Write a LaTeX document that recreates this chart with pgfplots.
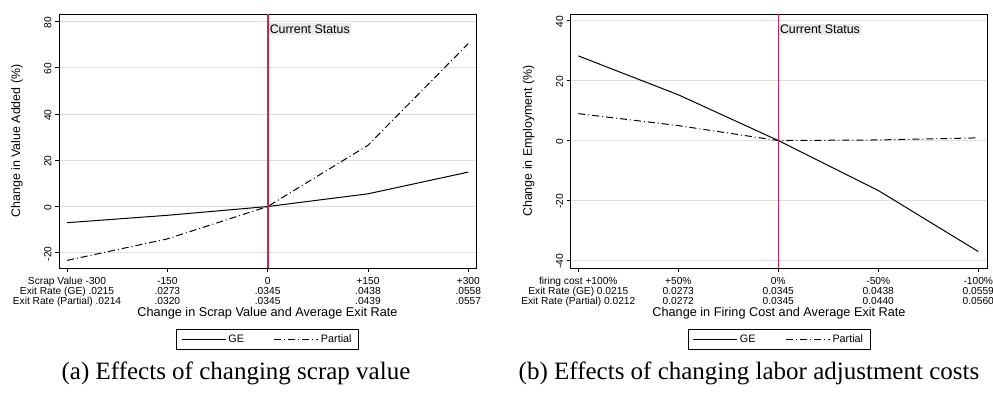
\documentclass[border=0pt]{standalone}
\usepackage{fontspec}
\setmainfont{Liberation Sans}
\newfontfamily\capfont{Liberation Serif}
\usepackage{pgfplots}
\pgfplotsset{compat=1.18}
\definecolor{statred}{RGB}{205,35,85}
\definecolor{gridgray}{RGB}{222,222,222}
\definecolor{boxgray}{RGB}{234,234,234}
\pgfplotsset{
  stataaxis/.style={
    scale only axis, width=417pt, height=254pt,
    axis line style={black, line width=0.9pt},
    tick align=outside, major tick length=4pt,
    tick style={black, line width=0.8pt},
    ymajorgrids, grid style={gridgray, line width=0.9pt},
    xtick pos=lower, ytick pos=left,
    /pgf/number format/assume math mode=true,
    xticklabel style={font=\fontsize{10.2}{10}\selectfont, align=center, anchor=north, yshift=-1.5pt},
    yticklabel style={font=\fontsize{10.2}{12}\selectfont, rotate=90, anchor=south, xshift=-1pt},
    every axis x label/.style={at={(rel axis cs:0.5,0)}, anchor=center, yshift=-45.7pt, font=\fontsize{12.7}{14}\selectfont},
    every axis y label/.style={at={(rel axis cs:0,0.5)}, xshift=-42pt, anchor=center, rotate=90, font=\fontsize{12.4}{14}\selectfont},
    legend style={at={(rel axis cs:0.5,0)}, anchor=center, yshift=-71.3pt, draw=black,
      font=\fontsize{10.8}{12}\selectfont, legend columns=2, inner xsep=5pt, inner ysep=3.5pt,
      /tikz/every even column/.append style={column sep=28pt}},
    legend image code/.code={\draw[#1] (0pt,0pt) -- (44pt,0pt);},
    gel/.style={black, line width=1pt},
    partl/.style={black, line width=1pt, dash pattern=on 7pt off 3pt on 1pt off 3pt},
    refl/.style={draw=statred, solid, line width=1.2pt, forget plot},
  }
}
\begin{document}
\begin{tikzpicture}
\begin{axis}[stataaxis, at={(59pt,-268pt)}, anchor=south west,
  xmin=-312, xmax=311.5, ymin=-26.6, ymax=83.3,
  xtick={-300,-150,0,150,300},
  xticklabels={{Scrap Value -300\\Exit Rate (GE) .0215\\Exit Rate (Partial) .0214},
               {-150\\.0273\\.0320},{0\\.0345\\.0345},{+150\\.0438\\.0439},{+300\\.0558\\.0557}},
  ytick={-20,0,20,40,60,80}, yticklabels={-20,0,20,40,60,80},
  xlabel={Change in Scrap Value and Average Exit Rate},
  ylabel={Change in Value Added (\%)}]
\addplot[gel] coordinates {(-300,-7) (-150,-3.8) (0,0) (150,5.5) (300,14.9)};
\addlegendentry{GE}
\addplot[partl] coordinates {(-300,-23.3) (-150,-14) (0,0) (150,26.5) (300,70.5)};
\addlegendentry{Partial}
\addplot[refl] coordinates {(0.6,-26.6) (0.6,83.3)};
\node[anchor=north west, fill=boxgray, inner xsep=1pt, inner ysep=1pt, text height=9pt, text depth=0.5pt,
  font=\fontsize{12.4}{14}\selectfont, yshift=-1.5pt, xshift=0.5pt] at (axis cs:0.6,80) {Current Status\hspace{5pt}};
\end{axis}
\begin{axis}[stataaxis, at={(570.7pt,-268pt)}, anchor=south west, width=416.6pt,
  xmin=-0.076, xmax=4.09, ymin=-42.6, ymax=42.3,
  xtick={0,1,2,3,4},
  xticklabels={{firing cost +100\%\\Exit Rate (GE) 0.0215\\Exit Rate (Partial) 0.0212},
               {+50\%\\0.0273\\0.0272},{0\%\\0.0345\\0.0345},{-50\%\\0.0438\\0.0440},{-100\%\\0.0559\\0.0560}},
  ytick={-40,-20,0,20,40}, yticklabels={-40,-20,0,20,40},
  xlabel={Change in Firing Cost and Average Exit Rate},
  ylabel={Change in Employment (\%)}]
\addplot[gel] coordinates {(0,28.3) (1,15.3) (2,0) (3,-16.7) (4,-37.1)};
\addlegendentry{GE}
\addplot[partl] coordinates {(0,9) (1,5) (2,0) (3,0.2) (4,0.9)};
\addlegendentry{Partial}
\addplot[refl] coordinates {(2,-42.6) (2,42.3)};
\node[anchor=north west, fill=boxgray, inner xsep=1pt, inner ysep=1pt, text height=9pt, text depth=0.5pt,
  font=\fontsize{12.4}{14}\selectfont, yshift=-2.5pt, xshift=0.5pt] at (axis cs:2,40) {Current Status\hspace{5pt}};
\end{axis}
\node[font=\capfont\fontsize{25}{30}\selectfont, anchor=base] at (236pt,-379pt) {(a) Effects of changing scrap value};
\node[font=\capfont\fontsize{25}{30}\selectfont, anchor=base] at (749pt,-379pt) {(b) Effects of changing labor adjustment costs};
\pgfresetboundingbox
\useasboundingbox (0pt,0pt) rectangle (993pt,-408pt);
\end{tikzpicture}
\end{document}
